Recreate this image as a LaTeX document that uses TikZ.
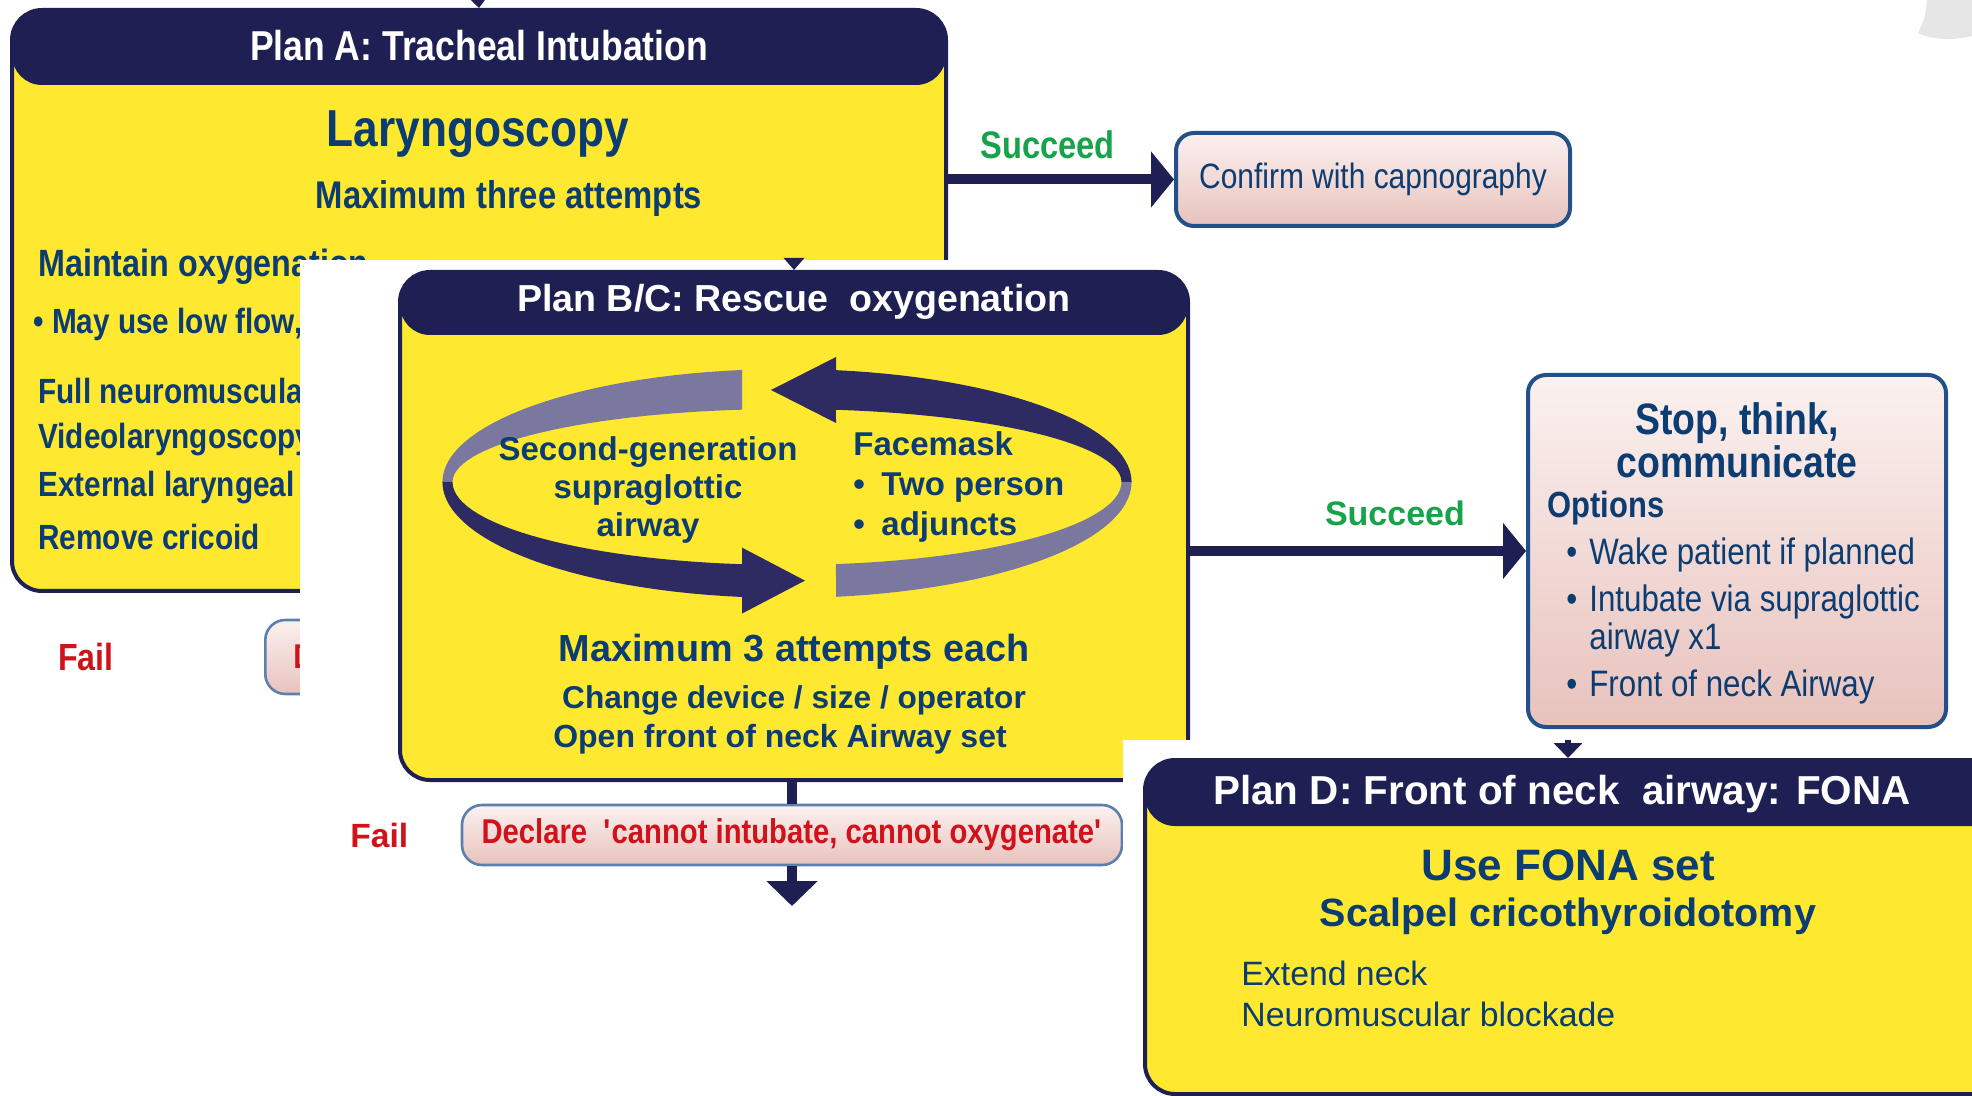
\documentclass[tikz,border=0pt]{standalone}
\usepackage{fontspec}
\setmainfont{Liberation Sans}
\newfontfamily\narrowfont[FakeStretch=0.85]{Liberation Sans}
\usepackage{tikz}
\usetikzlibrary{arrows.meta, positioning}
\definecolor{headnavy}{HTML}{1E1F52}
\definecolor{cardyellow}{HTML}{FFE930}
\definecolor{textnavy}{HTML}{0B3C72}
\definecolor{ringdark}{HTML}{2D2B61}
\definecolor{ringlight}{HTML}{7B789F}
\definecolor{pinktop}{HTML}{FBF1EF}
\definecolor{pinkbot}{HTML}{E8C2BD}
\definecolor{boxblue}{HTML}{21508A}
\definecolor{declblue}{HTML}{5B80AE}
\definecolor{succgreen}{HTML}{17A34A}
\definecolor{failred}{HTML}{D0121B}
\definecolor{curlgray}{HTML}{E6E6E6}
\newcommand\fsz[2]{\fontsize{#1}{#2}\selectfont}

\begin{document}
\begin{tikzpicture}[
  x=0.5pt, y=-0.5pt,
  planbox/.style={rectangle, rounded corners=15pt, draw=headnavy, line width=2pt, fill=cardyellow, inner sep=0pt,
    path picture={\fill[headnavy] (path picture bounding box.north west) rectangle ([yshift=-#1]path picture bounding box.north east);}},
  resbox/.style={rectangle, rounded corners=9pt, draw=boxblue, line width=2pt, top color=pinktop, bottom color=pinkbot, inner sep=0pt, text=textnavy},
  bodytxt/.style={text=textnavy, inner sep=0pt},
  headtxt/.style={text=white, inner sep=0pt},
  okay/.style={text=succgreen, inner sep=0pt},
  fail/.style={text=failred, inner sep=0pt},
  flow/.style={line width=5pt, color=headnavy, -{Triangle[width=27.5pt, length=11.5pt]}},
  stub/.style={line width=3pt, color=headnavy, -{Triangle[width=10pt, length=6pt]}}
]
\useasboundingbox (0,0) rectangle (1972,1096);
\fill[white] (0,0) rectangle (1972,1096);
% page curl, top right
\fill[curlgray] (1927,0) .. controls (1925,18) .. (1918,33) .. controls (1935,41) and (1955,40) .. (1972,36) -- (1972,0) -- cycle;

% Plan A
\node[planbox=37.5pt, minimum width=467pt, minimum height=290.5pt] (planA) at (479,300.5) {};
\node[headtxt, font=\narrowfont\bfseries\fsz{20.9pt}{24pt}] (titleA) at ([yshift=-18.75pt]planA.north) {Plan A: Tracheal Intubation};
\node[bodytxt, font=\narrowfont\bfseries\fsz{26pt}{30pt}] (laryn) at (478,134) {Laryngoscopy};
\node[bodytxt, font=\narrowfont\bfseries\fsz{19.3pt}{22pt}] (threeA) at (509,199) {Maximum three attempts};
\node[bodytxt, anchor=west, font=\narrowfont\bfseries\fsz{19pt}{22pt}] (oxyA) at (38,267) {Maintain oxygenation};
\node[bodytxt, anchor=west, font=\narrowfont\bfseries\fsz{17.5pt}{20pt}] (flowA) at (33,324) {\textbullet\ May use low flow,};
\node[bodytxt, anchor=west, font=\narrowfont\bfseries\fsz{17.5pt}{20pt}] (nmbA) at (38,391) {Full neuromuscular};
\node[bodytxt, anchor=west, font=\narrowfont\bfseries\fsz{17.5pt}{20pt}] (videoA) at (38,440) {Videolaryngoscopy};
\node[bodytxt, anchor=west, font=\narrowfont\bfseries\fsz{17.5pt}{20pt}] (extA) at (38,488) {External laryngeal};
\node[bodytxt, anchor=west, font=\narrowfont\bfseries\fsz{17.5pt}{20pt}] (cricA) at (38,537) {Remove cricoid};

\node[resbox, draw=declblue, line width=1.3pt, rounded corners=10pt, anchor=west, minimum height=37pt, text width=140pt, align=left, inner xsep=14pt, text=failred, font=\narrowfont\bfseries\fsz{17.2pt}{20pt}] (declA) at (264,657) {D};
\node[fail, left=75pt of declA, font=\narrowfont\bfseries\fsz{18.9pt}{22pt}] (failA) {Fail};

\node[resbox, minimum width=197pt, minimum height=46.5pt, font=\narrowfont\fsz{17.6pt}{20pt}] (confirm) at (1373,179.5) {Confirm with capnography};
\draw[flow] (planA.east |- confirm.west) -- node[okay, above=8pt, pos=0.44, font=\narrowfont\bfseries\fsz{19.2pt}{22pt}] (succA) {Succeed} (confirm.west);

\coordinate (ain) at (478,-4);
\draw[stub] (ain) -- (planA.north);

% Plan B/C
\fill[white] (300,260) rectangle (1190,1096);
\node[planbox=31.5pt, minimum width=394pt, minimum height=254pt] (planBC) at (794,526) {};
\coordinate (bcin) at (794,258);
\draw[stub] (bcin) -- (planBC.north);
\node[headtxt, font=\bfseries\fsz{18.8pt}{22pt}] (titleBC) at ([yshift=-15.75pt]planBC.north) {Plan B/C: Rescue\ \ oxygenation};

% rescue cycle
\fill[ringlight] plot[domain=97.5:180, samples=30] ({787+344.6*cos(\x)},{482-113*sin(\x)})
  -- plot[domain=180:97.73, samples=30] ({787+334.5*cos(\x)},{482-73*sin(\x)}) -- cycle;
\fill[ringdark] plot[domain=180:262.5, samples=30] ({787+344.6*cos(\x)},{482-116*sin(\x)})
  -- (742,613.6) -- (805,580.6) -- (742,547.6)
  -- plot[domain=262.27:180, samples=30] ({787+334.5*cos(\x)},{482-83*sin(\x)}) -- cycle;
\fill[ringlight] plot[domain=278.18:360, samples=30] ({787+344.6*cos(\x)},{482-116*sin(\x)})
  -- plot[domain=360:278.42, samples=30] ({787+334.5*cos(\x)},{482-83*sin(\x)}) -- cycle;
\fill[ringdark] plot[domain=0:81.82, samples=30] ({787+344.6*cos(\x)},{482-113*sin(\x)})
  -- (836,357) -- (771,390) -- (836,423)
  -- plot[domain=81.58:0, samples=30] ({787+334.5*cos(\x)},{482-73*sin(\x)}) -- cycle;

\node[bodytxt, align=center, font=\bfseries\fsz{16.5pt}{18.9pt}] (sga) at (648,490) {Second-generation\\supraglottic\\airway};
\node[bodytxt, anchor=west, align=left, font=\bfseries\fsz{16.5pt}{20pt}] (mask) at (853,487) {Facemask\\\textbullet\enspace Two person\\\textbullet\enspace adjuncts};
\node[bodytxt, font=\bfseries\fsz{18.9pt}{22pt}] (attempts) at (794,651.5) {Maximum 3 attempts each};
\node[bodytxt, font=\bfseries\fsz{15.8pt}{18pt}] (change) at (794,700.5) {Change device / size / operator};
\node[bodytxt, font=\bfseries\fsz{16pt}{18pt}] (openset) at (780,739.5) {Open front of neck Airway set};

\node[resbox, minimum width=209pt, minimum height=176pt] (stop) at (1737,551) {};
\node[bodytxt, align=center, font=\narrowfont\bfseries\fsz{22pt}{20.5pt}] (stoptitle) at (1737,440) {Stop, think,\\communicate};
\node[bodytxt, anchor=west, font=\narrowfont\bfseries\fsz{18.2pt}{21pt}] (options) at (1547,508) {Options};
\node[bodytxt, anchor=west, align=left, font=\narrowfont\fsz{18.4pt}{19pt}] (optlist) at (1566,621)
  {\textbullet\hspace{6pt}Wake patient if planned\\[4.5pt]
   \textbullet\hspace{6pt}Intubate via supraglottic\\
   \phantom{\textbullet}\hspace{6pt}airway x1\\[4.5pt]
   \textbullet\hspace{6pt}Front of neck Airway};
\draw[flow] (planBC.east |- stop.west) -- node[okay, above=10pt, pos=0.61, font=\bfseries\fsz{17pt}{20pt}] (succB) {Succeed} (stop.west);

\node[resbox, draw=declblue, line width=1.3pt, rounded corners=10pt, minimum width=330pt, minimum height=30pt, text=failred, font=\narrowfont\bfseries\fsz{17.2pt}{20pt}] (declare) at (792,835) {Declare\ \ \textquotesingle cannot intubate, cannot oxygenate\textquotesingle};
\node[fail, left=26pt of declare, font=\bfseries\fsz{16.8pt}{20pt}] (failB) {Fail};
\draw[line width=5pt, headnavy] (declare.north |- planBC.south) -- (declare.north);
\coordinate (nextstep) at (792,906);
\draw[flow, -{Triangle[width=25pt, length=12.5pt]}] (declare.south) -- (nextstep);

% Plan D
\fill[white] (1123,740) rectangle (1972,1096);
\node[planbox=33pt, minimum width=432.5pt, minimum height=167pt] (planD) at (1577.5,927) {};
\coordinate (din) at (1568,740);
\draw[stub, -{Triangle[width=14pt, length=7.5pt]}] (din) -- (din |- planD.north);
\node[headtxt, font=\bfseries\fsz{20.2pt}{24pt}] (titleD) at (1562,794) {Plan D: Front of neck\ \ airway: FONA};
\node[bodytxt, font=\bfseries\fsz{22pt}{26pt}] (fona) at (1568,865) {Use FONA set};
\node[bodytxt, font=\bfseries\fsz{19.75pt}{23pt}] (scalpel) at (1568,916) {Scalpel cricothyroidotomy};
\node[bodytxt, anchor=west, font=\fsz{16.9pt}{20pt}] (extend) at (1241,973) {Extend neck};
\node[bodytxt, anchor=west, font=\fsz{16.9pt}{20pt}] (blockade) at (1241,1014) {Neuromuscular blockade};
\end{tikzpicture}
\end{document}
